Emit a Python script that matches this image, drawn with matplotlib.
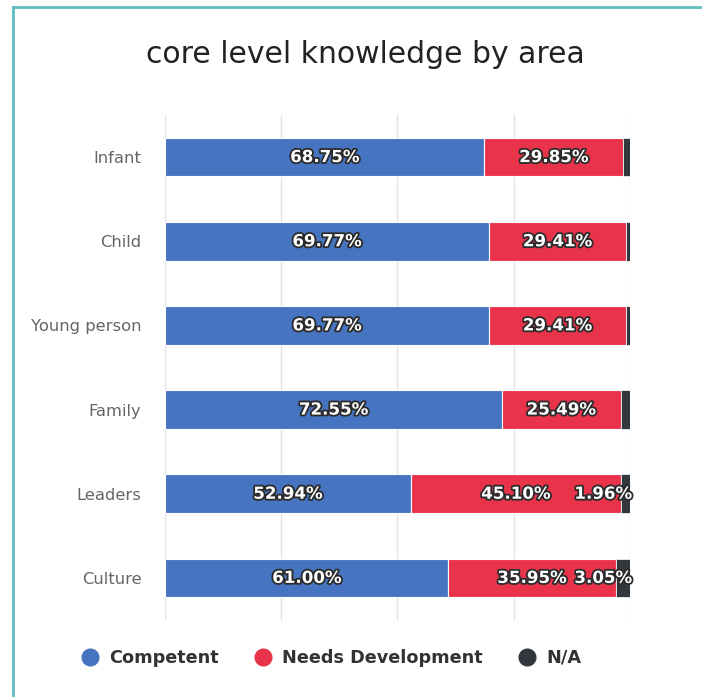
import matplotlib
matplotlib.use("Agg")
import matplotlib.pyplot as plt
import matplotlib.patheffects as pe
from matplotlib.lines import Line2D

categories = ["Infant", "Child", "Young person", "Family", "Leaders", "Culture"]
competent = [68.75, 69.77, 69.77, 72.55, 52.94, 61.00]
needs_dev = [29.85, 29.41, 29.41, 25.49, 45.10, 35.95]
not_applicable = [1.40, 0.82, 0.82, 1.96, 1.96, 3.05]
# the chart only printed the N/A labels that fit
na_label_shown = [False, False, False, False, True, True]
series_names = ["Competent", "Needs Development", "N/A"]
colors = ["#4774c0", "#e8334b", "#32373d"]

fig = plt.figure(figsize=(7.02, 6.97), dpi=100)
ax = fig.add_axes([0.235, 0.1105, 0.662, 0.7245])

y = list(range(len(categories)))
bar_h = 0.46
left2 = [a + b for a, b in zip(competent, needs_dev)]
ax.barh(y, competent, height=bar_h, color=colors[0], edgecolor="white", linewidth=0.8, zorder=3)
ax.barh(y, needs_dev, left=competent, height=bar_h, color=colors[1], edgecolor="white", linewidth=0.8, zorder=3)
ax.barh(y, not_applicable, left=left2, height=bar_h, color=colors[2], edgecolor="white", linewidth=0.5, zorder=3)

stroke = [pe.withStroke(linewidth=2.6, foreground="#2b2b2b")]
txt = dict(color="white", fontsize=12, fontweight="bold", va="center", zorder=5, path_effects=stroke)
for i in y:
    ax.text(competent[i] / 2, i, f"{competent[i]:.2f}%", ha="center", **txt)
    ax.text(competent[i] + needs_dev[i] / 2, i, f"{needs_dev[i]:.2f}%", ha="center", **txt)
    if na_label_shown[i]:
        ax.text(100.5, i, f"{not_applicable[i]:.2f}%", ha="right", **txt)

ax.set_xlim(0, 100)
ax.set_ylim(len(categories) - 0.5, -0.5)
ax.set_yticks(y)
ax.set_yticklabels(categories, color="#666666", fontsize=11.8)
ax.set_xticks([0, 25, 50, 75, 100])
ax.set_xticklabels([])
ax.tick_params(axis="y", length=0, pad=17)
ax.tick_params(axis="x", length=0)
ax.grid(axis="x", color="#e2e2e6", linewidth=1, zorder=0)
for s in ax.spines.values():
    s.set_visible(False)

fig.text(0.52, 0.922, "core level knowledge by area", ha="center", va="center", fontsize=21.5, color="#222222")

handles = [Line2D([], [], marker="o", linestyle="", markersize=12, color=c) for c in colors]
leg = fig.legend(handles, series_names, loc="center", bbox_to_anchor=(0.472, 0.056), ncol=3,
                 frameon=False, handletextpad=0.6, columnspacing=2.0, handlelength=1.0,
                 prop={"size": 12.7, "weight": "bold"})
for t in leg.get_texts():
    t.set_color("#333333")

# teal frame of the screenshot
teal = "#5fbdbd"
fig.add_artist(Line2D([13 / 702, 13 / 702], [0, 1 - 7 / 697], color=teal, linewidth=2, transform=fig.transFigure))
fig.add_artist(Line2D([13 / 702, 1], [1 - 7 / 697, 1 - 7 / 697], color=teal, linewidth=2, transform=fig.transFigure))

fig.savefig("out.png", dpi=100)
